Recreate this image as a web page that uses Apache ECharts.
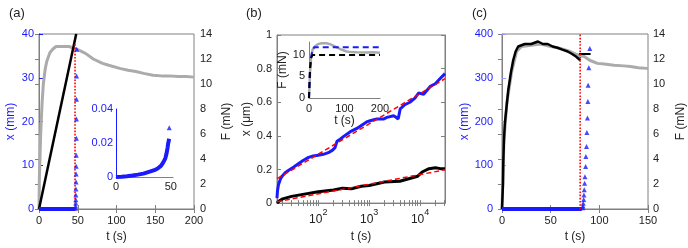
<!DOCTYPE html>
<html><head><meta charset="utf-8">
<script src="https://cdn.jsdelivr.net/npm/echarts@6/dist/echarts.min.js"></script>
<style>html,body{margin:0;padding:0;background:#fff}#c{width:688px;height:248px}</style>
</head><body><div id="c"></div>
<script>
// ---------- Panel (a) ----------
const aGrayT = [0,0.5,1,2,2.6,4,5.6,8,10,14,18,22,30,39,45,50,60,70,82,90,104,115,125,135,147,158,168,180,190,200];
const aGrayF = [0,2.6,3.5,5.7,6.6,8.5,10,11.2,11.8,12.5,12.8,13.0,13.0,13.0,12.85,12.75,12.45,12.0,11.65,11.5,11.25,11.1,11.0,10.85,10.7,10.65,10.65,10.6,10.6,10.55];
const aRampT = [0,48];
const aRampX = [0,40];
const aBaseT = [0,47];
const aBaseX = [0,0];
const aRedT = [46.5,46.5];
const aRedX = [0,38];
const aTriT = [47.2,47.3,47.4,47.5,47.6,47.7,47.8,47.9,48.0,48.1,48.2,48.3,48.4,48.5,48.7];
const aTriX = [0.2,0.7,1.4,2.1,3.2,4.6,6.2,8.0,9.8,12.3,16.2,20.6,25.1,30.4,36.5];
const aInT = [0,5,10,15,20,25,30,35,38,41,43,45,46,47,47.5,48,48.5];
const aInX = [0,0.0002,0.0005,0.0009,0.0014,0.002,0.003,0.004,0.005,0.0065,0.0085,0.011,0.0135,0.017,0.0195,0.021,0.0225];
const aInTriT = [48.6];
const aInTriX = [0.029];
// ---------- Panel (b) ----------
const bBlueT = [15.5,15.8,16.6,18.2,19.5,22.4,26.3,33.1,40.7,51.3,64.6,79.4,100,126,158,191,214,234,269,316,427,575,891,1047,1413,1905,2239,3020,3388,3715,4074,5012,6310,7943,9333,11750,15850,19950,24550,30900];
const bBlueX = [0.03,0.07,0.11,0.145,0.16,0.18,0.195,0.215,0.234,0.255,0.272,0.28,0.285,0.29,0.30,0.315,0.33,0.368,0.38,0.397,0.425,0.444,0.483,0.49,0.50,0.50,0.51,0.52,0.51,0.50,0.56,0.585,0.60,0.625,0.655,0.648,0.694,0.71,0.74,0.77];
const bBlackT = [15.5,17,20,30,50,100,200,300,450,700,1000,2000,4000,6000,9000,11000,15000,20000,25000,30900];
const bBlackX = [0.0,0.012,0.025,0.04,0.052,0.068,0.078,0.088,0.085,0.1,0.105,0.125,0.13,0.145,0.16,0.185,0.205,0.21,0.205,0.205];
const bFitT = [15.5,30900];
const bFitBlue = [0.145,0.74];
const bFitBlack = [0.008,0.198];
const bInGrayT = [0,3,6,10,17,25,36,50,59,70,80,90,106,120,134,160,180,200];
const bInGrayF = [0,6,9.5,11.2,12.0,12.5,12.7,12.7,12.5,12.1,11.7,11.3,10.8,10.65,10.6,10.55,10.6,10.5];
const bInBlueT = [0,2,5,10,15,200];
const bInBlueF = [0,5,9,11.2,11.8,11.8];
const bInBlackT = [0,3,6,10,200];
const bInBlackF = [0,7,9.3,10,10];
// ---------- Panel (c) ----------
const cBlackT = [0,0.5,1,1.3,2,3,4.7,6.4,9.1,11.5,14,16.6,20,23.4,30,37,42,47,52,57,62,67.5,72,76,80.4];
const cBlackF = [0,1,2,3.7,5.5,6.9,8.2,9.5,10.9,11.9,12.6,13.0,13.1,13.2,13.2,13.4,13.2,13.2,13.0,12.9,12.75,12.6,12.4,12.2,11.9];
const cGrayT = [0,2,5,10,15,20,30,40,50,60,70,80,84.5,90,98,105,115,125,132,140,149,150];
const cGrayF = [0,5.5,8.5,11,12.6,13.0,13.1,13.2,13.0,12.85,12.6,12.25,12.2,11.9,11.65,11.6,11.5,11.45,11.4,11.3,11.25,11.25];
const cSegT = [79,91];
const cSegF = [12.4,12.4];
const cRedT = [80.3,80.3];
const cRedX = [0,400];
const cBaseT = [0,82];
const cBaseX = [0,0];
const cTriT = [82.9,83.2,83.5,83.9,84.2,84.5,84.9,85.2,85.9,86.2,86.8,87.2,87.8,88.2,88.5,89.2,90.2];
const cTriX = [3,7,13,22,32,44,59,74,97,120,143,175,208,246,283,323,367];

const zip = (a, b) => a.map((v, i) => [v, b[i]]);
const FONT = 'Liberation Sans, Arial, Helvetica, sans-serif';
const BLUE = '#1a1aff', GAX = '#808080', TXT = '#222222';

// log-axis tick positions (1..9 x decade)
const logTicks = [];
[10,100,1000,10000].forEach(d => { for (let k = 1; k <= 9; k++) { const v = d*k; if (v >= 15.5 && v <= 30900) logTicks.push(v); } });

function xAx(grid, min, max, interval, pos, opt) {
  return Object.assign({
    gridIndex: grid, type: 'value', min, max, interval, position: pos,
    axisLine: { lineStyle: { color: GAX, width: 1 } },
    axisTick: { inside: true, length: 4, lineStyle: { color: GAX } },
    axisLabel: pos === 'top' ? { show: false } : { color: TXT, fontSize: 11, margin: 6, fontFamily: FONT },
    splitLine: { show: false }
  }, opt || {});
}
function yAx(grid, min, max, interval, pos, color, lineColor, opt) {
  return Object.assign({
    gridIndex: grid, type: 'value', min, max, interval, position: pos,
    axisLine: { show: true, lineStyle: { color: lineColor, width: 1 } },
    axisTick: { show: true, inside: true, length: 4, lineStyle: { color: lineColor } },
    axisLabel: { color: color, fontSize: 11, margin: 5, fontFamily: FONT },
    splitLine: { show: false }
  }, opt || {});
}
const nameX = (txt, gap) => ({ name: txt, nameLocation: 'middle', nameGap: gap, nameTextStyle: { color: TXT, fontSize: 12, fontFamily: FONT } });
const nameY = (txt, gap, color) => ({ name: txt, nameLocation: 'middle', nameGap: gap, nameTextStyle: { color: color, fontSize: 12, fontFamily: FONT } });

const logFmt = v => { const l = Math.log10(v), r = Math.round(l); return Math.abs(l - r) < 1e-6 ? '{b|10}{s|' + r + '}' : ''; };

const xAxis = [
  xAx(0, 0, 200, 50, 'bottom', nameX('t (s)', 19)),
  xAx(0, 0, 200, 50, 'top'),
  xAx(1, 0, 52, 50, 'bottom', { axisLabel: { color: TXT, fontSize: 11, margin: 4, fontFamily: FONT, formatter: v => (v % 50 === 0 ? String(v) : '') }, axisTick: { show: false } }),
  { gridIndex: 2, type: 'log', logBase: 10, min: 15.5, max: 30900, position: 'bottom',
    axisLine: { lineStyle: { color: GAX } },
    axisTick: { inside: true, length: 3, lineStyle: { color: GAX }, customValues: logTicks },
    axisLabel: { formatter: logFmt, fontFamily: FONT, fontSize: 12, margin: 5, color: TXT,
      rich: { b: { fontSize: 12, color: TXT, verticalAlign: 'bottom', lineHeight: 18, fontFamily: FONT }, s: { fontSize: 9, color: TXT, verticalAlign: 'top', lineHeight: 18, fontFamily: FONT } } },
    splitLine: { show: false }, ...nameX('t (s)', 20) },
  { gridIndex: 2, type: 'log', logBase: 10, min: 15.5, max: 30900, position: 'top',
    axisLine: { lineStyle: { color: GAX } },
    axisTick: { inside: true, length: 3, lineStyle: { color: GAX }, customValues: logTicks },
    axisLabel: { show: false }, splitLine: { show: false } },
  xAx(3, 0, 200, 100, 'bottom', Object.assign(nameX('t (s)', 17), { axisLabel: { color: TXT, fontSize: 11, margin: 5, fontFamily: FONT }, axisTick: { show: false } })),
  xAx(4, 0, 150, 50, 'bottom', nameX('t (s)', 19)),
  xAx(4, 0, 150, 50, 'top')
];

const yAxis = [
  yAx(0, 0, 40, 10, 'left', BLUE, BLUE, nameY('x (mm)', 22, BLUE)),
  yAx(0, 0, 14, 2, 'right', TXT, GAX, Object.assign(nameY('F (mN)', 27, TXT), { axisLabel: { color: TXT, fontSize: 11, margin: 6, fontFamily: FONT } })),
  yAx(1, 0, 0.04, 0.02, 'left', BLUE, BLUE, { axisTick: { show: false }, axisLabel: { color: BLUE, fontSize: 11, margin: 3, fontFamily: FONT } }),
  yAx(2, 0, 1, 0.2, 'left', TXT, GAX, nameY('x (\u03bcm)', 22, TXT)),
  yAx(2, 0, 1, 0.2, 'right', TXT, GAX, { axisLabel: { show: false } }),
  yAx(3, 0, 13, 5, 'left', TXT, GAX, Object.assign(nameY('F (mN)', 15, TXT), { axisTick: { show: false }, axisLabel: { color: TXT, fontSize: 11, margin: 4, fontFamily: FONT, formatter: v => (v % 5 === 0 ? String(v) : '') } })),
  yAx(4, 0, 400, 100, 'left', BLUE, '#9a9cff', Object.assign(nameY('x (mm)', 20, BLUE), { axisLabel: { color: BLUE, fontSize: 11, margin: 9, fontFamily: FONT } })),
  yAx(4, 0, 14, 2, 'right', TXT, GAX, Object.assign(nameY('F (mN)', 27, TXT), { axisLabel: { color: TXT, fontSize: 11, margin: 5, fontFamily: FONT } }))
];

const grid = [
  { left: 39, top: 34, width: 155, height: 175, show: true, borderColor: GAX, borderWidth: 1 },
  { left: 116, top: 109, width: 57, height: 68 },
  { left: 277, top: 35, width: 168, height: 174, show: true, borderColor: GAX, borderWidth: 1 },
  { left: 309, top: 42, width: 71, height: 56 },
  { left: 502, top: 34, width: 147, height: 175, show: true, borderColor: GAX, borderWidth: 1 }
];

const line = (xi, yi, data, color, width, type, z) => ({
  type: 'line', xAxisIndex: xi, yAxisIndex: yi, data, showSymbol: false, symbol: 'none',
  lineStyle: { color, width, type: type || 'solid' }, z: z || 2, silent: true
});
const tri = (xi, yi, data, size) => ({
  type: 'scatter', xAxisIndex: xi, yAxisIndex: yi, data, symbol: 'triangle', symbolSize: size || 5,
  itemStyle: { color: BLUE }, z: 6, silent: true
});

const series = [
  // (a)
  line(0, 1, zip(aGrayT, aGrayF), '#ababab', 3, 'solid', 1),
  line(0, 0, zip(aRampT, aRampX), '#000000', 2.5, 'solid', 3),
  line(0, 0, zip(aBaseT, aBaseX), BLUE, 4, 'solid', 3),
  line(0, 0, zip(aRedT, aRedX), '#ff0000', 1.6, 'dotted', 5),
  tri(0, 0, zip(aTriT, aTriX), 5),
  line(2, 2, zip(aInT, aInX), BLUE, 4, 'solid', 3),
  tri(2, 2, zip(aInTriT, aInTriX), 5),
  // (b)
  line(3, 3, zip(bBlueT, bBlueX), BLUE, 3, 'solid', 2),
  line(3, 3, zip(bBlackT, bBlackX), '#000000', 3, 'solid', 2),
  line(3, 3, zip(bFitT, bFitBlue), '#ff0000', 1.5, [5, 3], 4),
  line(3, 3, zip(bFitT, bFitBlack), '#ff0000', 1.5, [5, 3], 4),
  line(5, 5, zip(bInGrayT, bInGrayF), '#aaaaaa', 2.5, 'solid', 2),
  line(5, 5, zip(bInBlueT, bInBlueF), BLUE, 2, [6, 4], 3),
  line(5, 5, zip(bInBlackT, bInBlackF), '#000000', 2, [6, 4], 3),
  // (c)
  line(6, 7, zip(cGrayT, cGrayF), '#ababab', 3, 'solid', 1),
  line(6, 7, zip(cBlackT, cBlackF), '#000000', 2.5, 'solid', 2),
  line(6, 7, zip(cSegT, cSegF), '#000000', 2, 'solid', 2),
  line(6, 6, zip(cBaseT, cBaseX), BLUE, 4, 'solid', 3),
  line(6, 6, zip(cRedT, cRedX), '#ff0000', 1.6, 'dotted', 5),
  tri(6, 6, zip(cTriT, cTriX), 5)
];

const title = [
  { text: '(a)', left: 9, top: 7 },
  { text: '(b)', left: 246, top: 7 },
  { text: '(c)', left: 472, top: 7 }
].map(t => Object.assign(t, { padding: 0, textStyle: { fontSize: 13, fontWeight: 'normal', color: TXT, fontFamily: FONT } }));

const chart = echarts.init(document.getElementById('c'), null, { renderer: 'canvas' });
chart.setOption({
  animation: false, backgroundColor: '#ffffff',
  textStyle: { fontFamily: FONT },
  title, grid, xAxis, yAxis, series
});
</script></body></html>
